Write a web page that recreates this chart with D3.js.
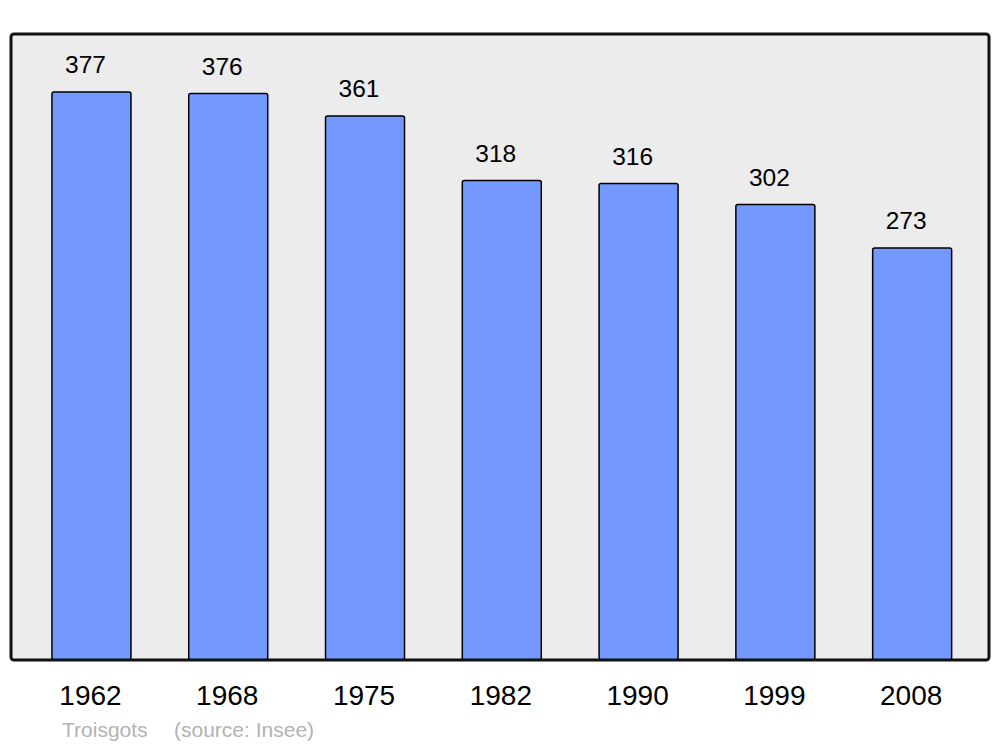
<!DOCTYPE html>
<html>
<head>
<meta charset="utf-8">
<script src="https://cdn.jsdelivr.net/npm/d3@7"></script>
<style>
  body { margin: 0; background: #fff; }
  text { font-family: "Liberation Sans", Arial, sans-serif; }
</style>
</head>
<body>
<svg id="chart" width="1000" height="747"></svg>
<script>
// population by census year
const years = ["1962", "1968", "1975", "1982", "1990", "1999", "2008"];
const population = [377, 376, 361, 318, 316, 302, 273];

const svg = d3.select("#chart");

// panel box
const panel = {x: 11, y: 34, w: 978, h: 626};

let x = d3.scaleBand()
    .domain(years)
    .range([24.6, 979])
    .paddingInner(0.4225)
    .paddingOuter(0.2);

let y = d3.scaleLinear()
    .domain([0, 400])
    .range([657.5, 57.5]);

svg.append("rect")
    .attr("x", panel.x)
    .attr("y", panel.y)
    .attr("width", panel.w)
    .attr("height", panel.h)
    .attr("rx", 3)
    .style("fill", "#ececec");

let data = years.map(function(d, i){ return {year: d, value: population[i]}; });

svg.selectAll(".bar")
    .data(data)
    .enter().append("rect")
    .attr("class", "bar")
    .attr("x", function(d){ return x(d.year); })
    .attr("y", function(d){ return y(d.value); })
    .attr("width", x.bandwidth())
    .attr("height", function(d){ return panel.y + panel.h - y(d.value); })
    .attr("rx", 2)
    .style("fill", "#7399ff")
    .style("stroke", "#000")
    .style("stroke-width", 1.5);

// labels sit a little left of the bar centre in the original
svg.selectAll(".val")
    .data(data)
    .enter().append("text")
    .attr("class", "val")
    .attr("x", function(d){ return x(d.year) + x.bandwidth() / 2 - 6; })
    .attr("y", function(d){ return y(d.value) - 19; })
    .attr("text-anchor", "middle")
    .style("font-size", "24.5px")
    .style("fill", "#000")
    .text(function(d){ return d.value; });

// border on top of the bars
svg.append("rect")
    .attr("x", panel.x)
    .attr("y", panel.y)
    .attr("width", panel.w)
    .attr("height", panel.h)
    .attr("rx", 3)
    .style("fill", "none")
    .style("stroke", "#111")
    .style("stroke-width", 3);

let axis = svg.append("g")
    .attr("transform", "translate(0," + (panel.y + panel.h) + ")")
    .call(d3.axisBottom(x).tickSize(0).tickPadding(25));
axis.select(".domain").remove();
axis.selectAll("text")
    .attr("dx", -1)
    .style("font-size", "28px")
    .style("font-family", "Liberation Sans, Arial, sans-serif")
    .style("fill", "#000");

svg.append("text")
    .attr("x", 62)
    .attr("y", 737)
    .style("font-size", "21px")
    .style("fill", "#b3b3b3")
    .text("Troisgots");

svg.append("text")
    .attr("x", 174)
    .attr("y", 737)
    .style("font-size", "21px")
    .style("fill", "#b3b3b3")
    .text("(source: Insee)");
</script>
</body>
</html>
